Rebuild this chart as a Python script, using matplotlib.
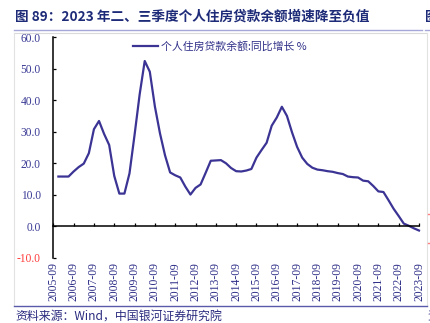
import matplotlib
matplotlib.use("Agg")
import matplotlib.pyplot as plt
from matplotlib import transforms
from matplotlib.lines import Line2D

plt.rcParams['font.family'] = ['Noto Sans CJK SC', 'DejaVu Sans']

# Quarterly YoY growth of personal housing loan balance (%), 2005-12 .. 2023-09
quarters = [f"{y}-{m:02d}" for y in range(2005, 2024) for m in (3, 6, 9, 12)]
quarters = quarters[quarters.index("2005-12"):quarters.index("2023-09") + 1]
growth = [15.8, 15.8, 15.8, 17.4, 18.8, 19.9, 23.2, 30.8, 33.4, 29.3,
          25.8, 16.0, 10.4, 10.4, 16.8, 29.0, 41.8, 52.4, 49.0, 38.0,
          29.5, 22.5, 17.1, 16.2, 15.5, 12.6, 10.1, 12.2, 13.3, 17.0,
          20.8, 20.9, 21.0, 20.0, 18.5, 17.5, 17.4, 17.7, 18.2, 21.8,
          24.2, 26.5, 31.9, 34.5, 37.9, 35.0, 29.8, 25.2, 21.8, 19.8,
          18.6, 18.0, 17.8, 17.5, 17.3, 16.9, 16.6, 15.8, 15.6, 15.5,
          14.5, 14.3, 12.8, 11.1, 10.9, 8.3, 5.6, 3.3, 0.9, 0.2,
          -0.6, -1.3]
tick_labels = [f"{y}-09" for y in range(2005, 2024)]
y_ticks = [-10, 0, 10, 20, 30, 40, 50, 60]

series_name = "个人住房贷款余额:同比增长 %"
title = "图 89：2023 年二、三季度个人住房贷款余额增速降至负值"
source = "资料来源：Wind，中国银河证券研究院"

W, H = 431, 323
fig = plt.figure(figsize=(W / 100, H / 100), dpi=100)
fig.patch.set_facecolor("white")


def px(x, y):
    return x / W, 1 - y / H


left, top = px(53.3, 37)
right, bottom = px(419, 258)
ax = fig.add_axes([left, bottom, right - left, top - bottom])

line_color = "#3B3494"
# quarter index: 0 = 2005-09
xs = list(range(1, len(growth) + 1))
ln, = ax.plot(xs, growth, color=line_color, lw=1.6, label=series_name,
              clip_on=False, solid_joinstyle="round")

ax.set_xlim(0, 72)
ax.set_ylim(-10, 60)

for s in ("top", "right"):
    ax.spines[s].set_visible(False)
ax.spines["bottom"].set_position(("data", 0))
ax.spines["left"].set_linewidth(1.1)
ax.spines["bottom"].set_linewidth(1.1)

ax.set_xticks(range(0, 73, 4))
ax.tick_params(axis="x", direction="in", length=2.5, width=0.9,
               labelbottom=False)
ax.set_yticks(y_ticks)
ax.tick_params(axis="y", direction="in", length=2.5, width=0.9, pad=9)
ax.set_yticklabels([f"{v:.1f}" for v in y_ticks],
                   family="Liberation Serif", fontsize=8.3)
for lab, v in zip(ax.get_yticklabels(), y_ticks):
    lab.set_color("#FF3B3B" if v < 0 else "#3A3A96")

trans = transforms.blended_transform_factory(ax.transData, ax.transAxes)
for i, lab in enumerate(tick_labels):
    ax.text(i * 4, -0.018, lab, transform=trans, rotation=90, ha="center",
            va="top", family="Liberation Serif", fontsize=8.4,
            color="#2E2E88")

leg = ax.legend(handles=[ln], loc="center left",
                bbox_to_anchor=px(133, 46), bbox_transform=fig.transFigure,
                frameon=False, fontsize=7.8, handlelength=2.3,
                handletextpad=0.3, borderpad=0, borderaxespad=0)
for t in leg.get_texts():
    t.set_color("#2E2E88")

# title and source
fig.text(*px(15, 17), title, fontsize=9.8, fontweight="bold",
         color="#1E2B78", va="center", ha="left")
fig.text(*px(425, 17), "图", fontsize=9.8, fontweight="bold",
         color="#1E2B78", va="center", ha="left")
fig.text(*px(15, 316), source, fontsize=8.6, color="#2B2B80",
         va="center", ha="left")
fig.text(*px(427, 316), "资", fontsize=8.6, color="#2B2B80",
         va="center", ha="left")

# frame lines
def hline(y, x0, x1, color, lw):
    (a, b), (c, _) = px(x0, y), px(x1, y)
    fig.add_artist(Line2D([a, c], [b, b], color=color, lw=lw,
                          transform=fig.transFigure))


def vline(x, y0, y1, color, lw):
    (a, b), (_, d) = px(x, y0), px(x, y1)
    fig.add_artist(Line2D([a, a], [b, d], color=color, lw=lw,
                          transform=fig.transFigure))


hline(29.5, 14, 422, "#A6A6D8", 1.0)
hline(29.5, 425, 431, "#A6A6D8", 1.0)
hline(33, 14, 427, "#DADADA", 0.8)
vline(14.5, 33, 305, "#E2E2E2", 0.8)
vline(427, 33, 305, "#E2E2E2", 0.8)
hline(305.5, 14, 427, "#5A5AAA", 1.0)
hline(214, 428, 431, "#FF8080", 1.0)
hline(243, 428, 431, "#FF8080", 1.0)

fig.savefig("out.png", dpi=100)
